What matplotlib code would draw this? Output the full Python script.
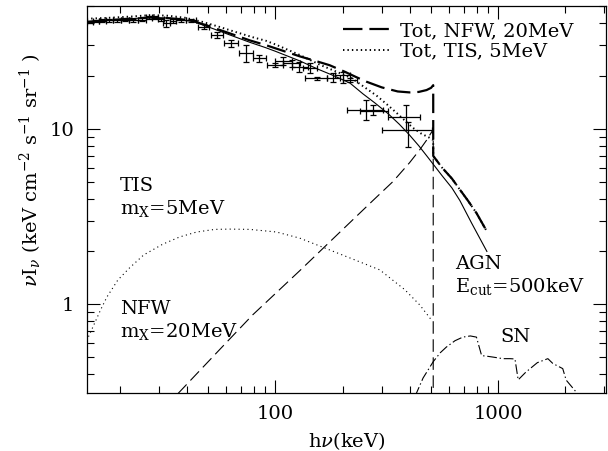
import numpy as np
import matplotlib
matplotlib.use("Agg")
import matplotlib.pyplot as plt
from matplotlib.ticker import NullFormatter, LogLocator

plt.rcParams["font.family"] = ["DejaVu Serif"]
plt.rcParams["mathtext.fontset"] = "dejavuserif"
plt.rcParams["lines.scale_dashes"] = False

# ---- measured background points (keV, keV cm^-2 s^-1 sr^-1) ----
data_e = [14.65, 15.59, 16.59, 17.83, 19.37, 21.04, 22.86, 25.09, 26.97, 28.70,
          30.54, 32.15, 34.57, 37.56, 41.64, 47.65, 54.48, 62.98, 73.55, 84.14,
          99.28, 107.8, 118.4, 127.2, 142.6, 153.3, 180.9, 200.6, 215.7,
          254.5, 273.6, 384.9, 393.0]
data_e_lo = [14.20, 15.10, 16.08, 17.28, 18.58, 20.18, 21.93, 24.07, 26.15, 27.81,
             29.60, 31.17, 33.51, 35.66, 39.54, 44.77, 51.21, 58.59, 68.42, 79.07,
             91.40, 99.28, 107.8, 118.4, 132.7, 135.4, 170.0, 184.7, 200.6,
             209.1, 239.2, 319.6, 300.4]
data_e_hi = [15.10, 16.08, 17.28, 18.58, 20.18, 21.93, 24.07, 26.15, 27.81, 29.60,
             31.49, 33.51, 35.66, 39.54, 43.85, 50.16, 57.98, 67.71, 79.07, 90.45,
             107.8, 118.4, 128.6, 139.7, 153.3, 170.0, 194.5, 215.7, 231.9,
             303.4, 319.6, 444.8, 503.8]
data_i = [40.7, 41.05, 41.3, 41.4, 41.6, 41.8, 41.4, 41.8, 43.1, 42.9,
          42.0, 39.8, 41.05, 41.6, 41.4, 38.1, 34.2, 30.6, 26.9, 25.2,
          23.06, 24.4, 23.6, 22.55, 22.1, 19.36, 19.36, 20.2, 18.9,
          12.8, 12.6, 11.7, 9.83]
data_i_lo = [40.1, 40.4, 40.6, 40.7, 40.8, 41.0, 40.6, 41.0, 42.2, 42.0,
             41.1, 38.1, 40.2, 40.8, 40.6, 37.0, 32.7, 29.3, 24.1, 24.1,
             22.5, 23.06, 22.5, 21.1, 20.7, 18.9, 18.5, 18.1, 18.4,
             11.2, 12.0, 9.83, 7.90]
data_i_hi = [41.3, 41.7, 42.0, 42.1, 42.4, 42.6, 42.2, 42.6, 44.0, 43.8,
             42.9, 41.6, 41.9, 42.4, 42.2, 39.5, 35.7, 32.0, 29.95, 26.3,
             23.7, 25.5, 24.6, 24.1, 23.6, 19.8, 20.7, 21.1, 19.4,
             14.6, 13.65, 13.65, 10.96]

# ---- model curves ----
agn_e = [14.2, 17.7, 22.9, 27.2, 31.8, 37.2, 43.4, 52, 62, 77, 90, 100, 129, 153,
         180, 216, 247, 280, 320, 360, 400, 440, 478, 520, 560, 620, 673, 760, 890]
agn_i = [40.6, 41.5, 42.4, 43.0, 42.8, 42.0, 40.5, 37.3, 34.3, 31.0, 29.0, 27.6, 24.3,
         22.0, 20.2, 18.2, 15.8, 14.0, 12.2, 10.6, 9.2, 8.0, 7.0, 6.1, 5.4, 4.6, 3.9,
         2.9, 2.0]

tot_nfw_e = [14.2, 17.7, 22.9, 27.2, 31.8, 37.2, 43.4, 52, 62, 77, 90, 100, 129, 155,
             175, 205, 230, 257, 300, 354, 400, 440, 477, 500, 511,
             511, 560, 620, 673, 731, 800, 890]
tot_nfw_i = [40.6, 41.5, 42.4, 43.0, 42.8, 42.1, 40.8, 37.8, 35.0, 31.8, 30.0, 28.7,
             25.8, 24.1, 23.0, 21.1, 19.7, 18.5, 17.2, 16.3, 16.1, 16.2, 16.6, 17.1,
             17.7, 7.0, 6.0, 5.2, 4.5, 3.9, 3.3, 2.6]

tot_tis_e = [14.2, 17.7, 22.9, 27.6, 33, 39.5, 47, 55.7, 66, 79, 90.5, 100, 128.6,
             160, 190, 220, 250, 285, 320, 350, 385, 415, 450, 490, 511,
             511, 560, 620, 673, 731, 800, 890]
tot_tis_i = [42.3, 42.8, 43.6, 44.4, 44.0, 42.8, 40.6, 38.1, 35.6, 33.2, 31.7, 30.2,
             26.3, 23.0, 21.0, 19.4, 17.3, 15.4, 13.6, 12.3, 11.0, 10.1, 9.4, 8.9,
             8.6, 7.0, 6.0, 5.2, 4.5, 3.9, 3.3, 2.6]

nfw_e = [36.5, 56, 79, 129, 195, 274, 337, 400, 445, 477, 511, 511]
nfw_i = [0.31, 0.55, 0.87, 1.56, 2.58, 3.9, 5.0, 6.4, 7.6, 8.6, 9.9, 0.2]

tis_e = [14.2, 16.4, 17.5, 19.6, 22.1, 25.6, 31.2, 37.2, 44.3, 53.4, 62.3, 76.7, 101,
         128.6, 175, 227, 294, 381, 445, 503]
tis_i = [0.62, 0.93, 1.10, 1.375, 1.61, 1.91, 2.20, 2.42, 2.58, 2.67, 2.68, 2.67, 2.58,
         2.38, 2.04, 1.79, 1.57, 1.21, 0.99, 0.81]

sn_e = [424, 460, 511, 550, 585, 640, 694, 750, 799, 843, 900, 950, 1050, 1131, 1190,
        1230, 1330, 1500, 1672, 1760, 1950, 2020, 2320]
sn_i = [0.30, 0.38, 0.471, 0.53, 0.57, 0.62, 0.65, 0.66, 0.65, 0.51, 0.505, 0.50, 0.49,
        0.49, 0.488, 0.371, 0.41, 0.465, 0.49, 0.46, 0.43, 0.37, 0.30]

fig = plt.figure(figsize=(6.08, 4.51), dpi=100)
ax = fig.add_axes([0.1426, 0.1279, 0.8541, 0.8588])

e = np.array(data_e)
i = np.array(data_i)
ax.errorbar(e, i,
            xerr=[e - np.array(data_e_lo), np.array(data_e_hi) - e],
            yerr=[i - np.array(data_i_lo), np.array(data_i_hi) - i],
            fmt="none", ecolor="k", elinewidth=0.9, capsize=2.2, capthick=0.9)

ax.plot(agn_e, agn_i, color="k", lw=0.8)
ax.plot(tot_nfw_e, tot_nfw_i, color="k", lw=1.6, dashes=(14, 5),
        label="Tot, NFW, 20MeV")
ax.plot(tot_tis_e, tot_tis_i, color="k", lw=1.4, dashes=(1, 2.2),
        label="Tot, TIS, 5MeV")
ax.plot(nfw_e, nfw_i, color="k", lw=0.8, dashes=(9, 4))
ax.plot(tis_e, tis_i, color="k", lw=0.8, dashes=(0.8, 2.4))
ax.plot(sn_e, sn_i, color="k", lw=0.8, dashes=(7, 2, 1, 2))

ax.set_xscale("log")
ax.set_yscale("log")
ax.set_xlim(14.2, 3050)
ax.set_ylim(0.311, 50)

ax.set_xticks([100, 1000])
ax.set_xticklabels(["100", "1000"])
ax.set_yticks([1, 10])
ax.set_yticklabels(["1", "10"])
ax.xaxis.set_minor_locator(LogLocator(subs=np.arange(2, 10)))
ax.yaxis.set_minor_locator(LogLocator(subs=np.arange(2, 10)))
ax.xaxis.set_minor_formatter(NullFormatter())
ax.yaxis.set_minor_formatter(NullFormatter())
ax.tick_params(which="both", direction="in", top=True, right=True, width=0.8,
               labelsize=14)
ax.tick_params(which="major", length=9.4)
ax.tick_params(which="minor", length=5)
ax.tick_params(axis="y", pad=9)
ax.tick_params(axis="x", pad=8.4)
for s in ax.spines.values():
    s.set_linewidth(0.9)

ax.set_xlabel(r"h$\nu$(keV)", fontsize=14)
ax.xaxis.set_label_coords(0.5, -0.095)
ax.set_ylabel(r"$\nu$I$_\nu$ (keV cm$^{-2}$ s$^{-1}$ sr$^{-1}$ )", fontsize=14)
ax.yaxis.set_label_coords(-0.082, 0.575)

ax.legend(loc="upper left", bbox_to_anchor=(0.4935, 0.959), frameon=False,
          borderpad=0, borderaxespad=0, handlelength=2.42, handletextpad=0.51,
          labelspacing=0.15, fontsize=14)

kw = dict(transform=ax.transAxes, fontsize=14, va="top", ha="left", linespacing=1.2)
ax.text(0.0641, 0.558, "TIS\n" + r"m$_{\rm X}$=5MeV", **kw)
ax.text(0.0641, 0.2404, "NFW\n" + r"m$_{\rm X}$=20MeV", **kw)
ax.text(0.7096, 0.3566, "AGN\n" + r"E$_{\rm cut}$=500keV", **kw)
ax.text(0.7959, 0.1325, "SN", transform=ax.transAxes, fontsize=14,
        va="baseline", ha="left")

fig.savefig("out.png", dpi=100)
